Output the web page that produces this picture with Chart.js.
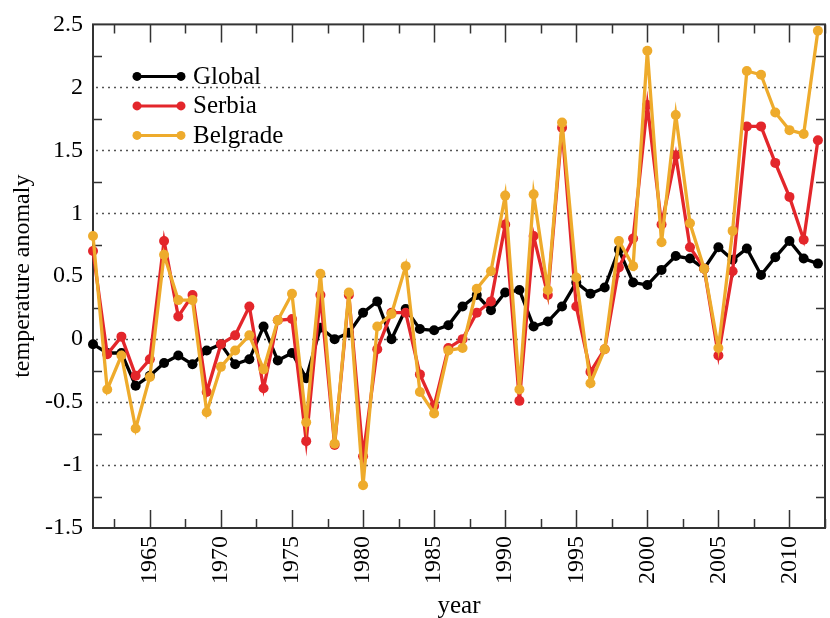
<!DOCTYPE html>
<html>
<head>
<meta charset="utf-8">
<script src="https://cdn.jsdelivr.net/npm/chart.js@4/dist/chart.umd.min.js"></script>
<style>
  html, body { margin: 0; padding: 0; background: #fff; }
  #wrap { width: 830px; height: 618px; }
</style>
</head>
<body>
<div id="wrap"><canvas id="anomalyChart" width="830" height="618"></canvas></div>
<script>
// data
const years = [1961, 1962, 1963, 1964, 1965, 1966, 1967, 1968, 1969, 1970,
  1971, 1972, 1973, 1974, 1975, 1976, 1977, 1978, 1979, 1980,
  1981, 1982, 1983, 1984, 1985, 1986, 1987, 1988, 1989, 1990,
  1991, 1992, 1993, 1994, 1995, 1996, 1997, 1998, 1999, 2000,
  2001, 2002, 2003, 2004, 2005, 2006, 2007, 2008, 2009, 2010,
  2011, 2012];
const globalVals = [-0.04, -0.11, -0.11, -0.37, -0.29, -0.19, -0.13, -0.20, -0.09, -0.04,
  -0.20, -0.16, 0.10, -0.17, -0.11, -0.31, 0.09, 0.00, 0.05, 0.21,
  0.30, 0.00, 0.24, 0.08, 0.07, 0.11, 0.26, 0.35, 0.23, 0.37,
  0.39, 0.10, 0.14, 0.26, 0.45, 0.36, 0.41, 0.71, 0.45, 0.43,
  0.55, 0.66, 0.64, 0.56, 0.73, 0.63, 0.72, 0.51, 0.65, 0.78,
  0.64, 0.60];
const serbiaVals = [0.70, -0.12, 0.02, -0.29, -0.16, 0.78, 0.18, 0.35, -0.42, -0.04,
  0.03, 0.26, -0.39, 0.15, 0.16, -0.81, 0.35, -0.84, 0.35, -0.93,
  -0.08, 0.21, 0.21, -0.28, -0.53, -0.07, 0.00, 0.21, 0.30, 0.91,
  -0.49, 0.82, 0.35, 1.68, 0.26, -0.26, -0.08, 0.57, 0.80, 1.86,
  0.91, 1.46, 0.73, 0.56, -0.13, 0.54, 1.69, 1.69, 1.40, 1.13,
  0.79, 1.58];
const belgradeVals = [0.82, -0.40, -0.13, -0.71, -0.30, 0.67, 0.31, 0.31, -0.58, -0.22,
  -0.09, 0.03, -0.24, 0.15, 0.36, -0.66, 0.52, -0.83, 0.37, -1.16,
  0.10, 0.20, 0.58, -0.42, -0.59, -0.09, -0.07, 0.40, 0.54, 1.14,
  -0.40, 1.15, 0.39, 1.72, 0.49, -0.35, -0.08, 0.78, 0.58, 2.29,
  0.77, 1.78, 0.92, 0.56, -0.07, 0.86, 2.13, 2.10, 1.80, 1.66,
  1.63, 2.45];

const xTicks = [1965, 1970, 1975, 1980, 1985, 1990, 1995, 2000, 2005, 2010];
const xMinorTicks = [1962.5, 1967.5, 1972.5, 1977.5, 1982.5, 1987.5, 1992.5, 1997.5, 2002.5, 2007.5, 2012.5];
const yTicks = [-1.5, -1, -0.5, 0, 0.5, 1, 1.5, 2, 2.5];
const yMinorTicks = [-1.25, -0.75, -0.25, 0.25, 0.75, 1.25, 1.75, 2.25];

const FONT = "'Liberation Serif', 'Times New Roman', serif";
const colBlack = '#000000';
const colRed = '#e3262b';
const colOrange = '#eeab2c';

Chart.defaults.font.family = FONT;
Chart.defaults.color = '#000';

function toPoints(vals) {
  return years.map((y, i) => ({ x: y, y: vals[i] }));
}

function series(label, vals, color, order) {
  return {
    label: label,
    data: toPoints(vals),
    borderColor: color,
    backgroundColor: color,
    borderWidth: 3.3,
    pointRadius: 5,
    pointBorderWidth: 0,
    pointHoverRadius: 5,
    tension: 0,
    clip: false,
    order: order
  };
}

// dotted grid, frame and inward ticks like the original plotting package
const framePlugin = {
  id: 'frame',
  beforeDatasetsDraw(chart) {
    const ctx = chart.ctx;
    const a = chart.chartArea;
    const xs = chart.scales.x, ys = chart.scales.y;
    ctx.save();
    // dotted horizontal grid
    ctx.strokeStyle = '#555';
    ctx.lineWidth = 1.5;
    ctx.setLineDash([2, 4]);
    yTicks.forEach(v => {
      const py = Math.round(ys.getPixelForValue(v)) + 0.5;
      if (py <= a.top + 2 || py >= a.bottom - 2) return;
      ctx.beginPath(); ctx.moveTo(a.left + 3, py); ctx.lineTo(a.right - 2, py); ctx.stroke();
    });
    ctx.setLineDash([]);
    ctx.strokeStyle = '#333';
    xTicks.forEach(v => {
      const px = Math.round(xs.getPixelForValue(v)) + 0.5;
      ctx.beginPath();
      ctx.moveTo(px, a.bottom); ctx.lineTo(px, a.bottom - 18);
      ctx.moveTo(px, a.top); ctx.lineTo(px, a.top + 18);
      ctx.stroke();
    });
    xMinorTicks.forEach(v => {
      const px = Math.round(xs.getPixelForValue(v)) + 0.5;
      ctx.beginPath();
      ctx.moveTo(px, a.bottom); ctx.lineTo(px, a.bottom - 9);
      ctx.moveTo(px, a.top); ctx.lineTo(px, a.top + 9);
      ctx.stroke();
    });
    yMinorTicks.forEach(v => {
      const py = Math.round(ys.getPixelForValue(v)) + 0.5;
      ctx.beginPath();
      ctx.moveTo(a.left, py); ctx.lineTo(a.left + 9, py);
      ctx.moveTo(a.right, py); ctx.lineTo(a.right - 9, py);
      ctx.stroke();
    });
    ctx.lineWidth = 2;
    ctx.strokeRect(a.left, a.top, a.right - a.left, a.bottom - a.top);
    ctx.restore();
  }
};

// legend with a dot at each end of the line sample
const legendPlugin = {
  id: 'dotLegend',
  afterDraw(chart) {
    const ctx = chart.ctx;
    const a = chart.chartArea;
    const x0 = a.left + 44, x1 = a.left + 88;
    let y = a.top + 52;
    ctx.save();
    ctx.font = '25px ' + FONT;
    ctx.textBaseline = 'middle';
    chart.data.datasets.forEach(ds => {
      ctx.strokeStyle = ds.borderColor;
      ctx.fillStyle = ds.borderColor;
      ctx.lineWidth = 3;
      ctx.beginPath(); ctx.moveTo(x0, y); ctx.lineTo(x1, y); ctx.stroke();
      [x0, x1].forEach(px => { ctx.beginPath(); ctx.arc(px, y, 4.5, 0, Math.PI * 2); ctx.fill(); });
      ctx.fillStyle = '#000';
      ctx.fillText(ds.label, x1 + 12, y + 1);
      y += 29.5;
    });
    ctx.restore();
  }
};

new Chart(document.getElementById('anomalyChart'), {
  type: 'line',
  data: {
    datasets: [
      series('Global', globalVals, colBlack, 3),
      series('Serbia', serbiaVals, colRed, 2),
      series('Belgrade', belgradeVals, colOrange, 1)
    ]
  },
  plugins: [framePlugin, legendPlugin],
  options: {
    responsive: false,
    animation: false,
    events: [],
    layout: { padding: { top: 22, right: 2, left: 0, bottom: 0 } },
    plugins: { legend: { display: false }, tooltip: { enabled: false } },
    scales: {
      x: {
        type: 'linear',
        min: 1961,
        max: 2012.5,
        afterBuildTicks: s => { s.ticks = xTicks.map(v => ({ value: v })); },
        afterFit: s => { s.height = 90; },
        grid: { display: false, drawTicks: false },
        border: { display: false },
        ticks: {
          minRotation: 90, maxRotation: 90, padding: 8,
          color: '#000', font: { family: FONT, size: 24 },
          callback: v => String(v)
        },
        title: {
          display: true, text: 'year', color: '#000',
          font: { family: FONT, size: 25, lineHeight: 0.9 }, padding: { top: 0, bottom: 0 }
        }
      },
      y: {
        min: -1.5,
        max: 2.5,
        afterBuildTicks: s => { s.ticks = yTicks.map(v => ({ value: v })); },
        afterFit: s => { s.width = 93; },
        grid: { display: false, drawTicks: false },
        border: { display: false },
        ticks: {
          padding: 10, color: '#000', font: { family: FONT, size: 24 },
          callback: v => String(v)
        },
        title: {
          display: true, text: 'temperature anomaly', color: '#000',
          font: { family: FONT, size: 24 }, padding: { top: 8, bottom: 0 }
        }
      }
    }
  }
});
</script>
</body>
</html>
